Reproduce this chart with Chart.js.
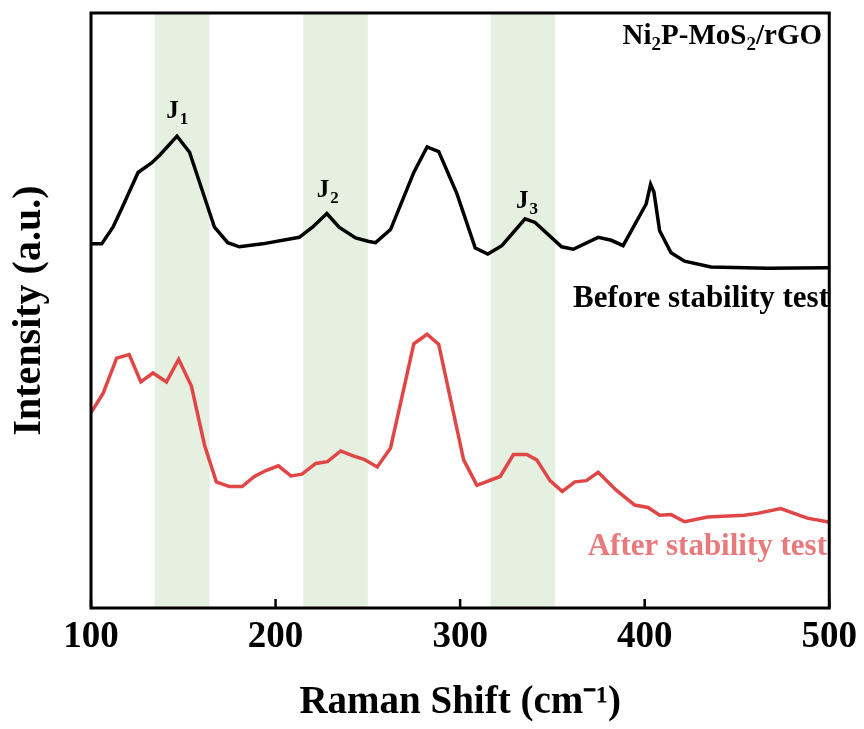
<!DOCTYPE html>
<html>
<head>
<meta charset="utf-8">
<script src="https://cdn.jsdelivr.net/npm/chart.js@4"></script>
<style>
html,body{margin:0;padding:0;background:#fff;}
#wrap{width:864px;height:729px;position:relative;}
</style>
</head>
<body>
<div id="wrap"><canvas id="c" width="864" height="729"></canvas></div>
<script>
// Raman shift (cm-1) and intensity (a.u., offset stacked)
const beforeX = [100,105.8,111.9,116.6,125.5,132.8,137.2,146.6,153.4,166.9,174.1,180.4,193.0,212.8,220.0,227.8,234.4,243.4,250.6,254.2,262.3,274.9,282.1,288.4,298.3,308.2,315.0,322.6,335.2,340.6,355.0,361.3,374.8,381.9,388.3,400.8,403.2,405.0,408.1,414.3,421.6,435.9,466.5,498.9,500];
const beforeY = [61.2,61.2,64.0,67.1,73.2,74.8,76.1,79.3,76.6,64.0,61.4,60.7,61.2,62.3,64.0,66.3,64.0,62.2,61.6,61.4,63.6,73.2,77.5,76.7,69.6,60.5,59.5,60.9,65.4,64.8,60.7,60.3,62.3,61.8,60.9,67.9,71.2,69.9,63.4,59.7,58.3,57.3,57.1,57.2,57.2];
const afterX = [100,106.6,113.9,120.7,127.0,133.6,140.9,147.5,154.4,161.5,167.9,175.0,181.9,188.5,194.8,201.5,208.3,214.3,221.8,228.1,235.3,241.6,247.9,255.1,262.3,274.9,282.1,288.4,301.9,309.1,321.7,328.9,336.1,341.5,348.7,355.3,362.2,368.4,374.8,384.6,394.6,401.8,408.1,414.3,421.6,434.1,453.9,461.1,473.7,488.1,498.9,500];
const afterY = [32.8,36.1,42.0,42.6,38.0,39.5,38.0,41.8,37.3,27.4,21.2,20.4,20.4,22.1,23.1,23.9,22.2,22.5,24.3,24.6,26.4,25.6,25.0,23.7,26.9,44.4,46.0,44.3,24.9,20.6,22.1,25.8,25.8,24.9,21.4,19.6,21.2,21.4,22.8,19.8,17.3,16.9,15.6,15.7,14.5,15.3,15.6,15.9,16.7,15.1,14.5,14.4];
const bands = [[134.5,164.2],[215,250],[316.5,351.5]];
const xTicks = [100,200,300,400,500];
const peakLabels = [["J","1",146.5,82.3],["J","2",228,69],["J","3",336,67.2]];
const seriesNames = ["Before stability test","After stability test"];
const sampleName = ["Ni","2","P-MoS","2","/rGO"];

const FONT = "'Liberation Serif','Times New Roman',serif";
const RED = "#e04646";
const RED_TXT = "#e87a7c";

function pts(xs, ys){ return xs.map((x,i)=>({x:x,y:ys[i]})); }

const deco = {
  id:'deco',
  beforeDatasetsDraw(chart){
    const {ctx, chartArea:a, scales:{x}} = chart;
    ctx.save();
    ctx.fillStyle = 'rgb(229,240,225)';
    bands.forEach(b=>{
      const x0 = x.getPixelForValue(b[0]), x1 = x.getPixelForValue(b[1]);
      ctx.fillRect(x0, a.top, x1-x0, a.bottom-a.top);
    });
    ctx.restore();
  },
  afterDatasetsDraw(chart){
    const {ctx, chartArea:a, scales:{x,y}} = chart;
    ctx.save();
    // frame
    ctx.strokeStyle = '#000';
    ctx.lineWidth = 3;
    ctx.strokeRect(a.left, a.top, a.right-a.left, a.bottom-a.top);
    // inward ticks
    ctx.lineWidth = 2.5;
    xTicks.forEach(t=>{
      const px = x.getPixelForValue(t);
      ctx.beginPath(); ctx.moveTo(px, a.bottom); ctx.lineTo(px, a.bottom-9); ctx.stroke();
    });
    // peak labels
    ctx.fillStyle = '#000';
    ctx.textBaseline = 'alphabetic';
    peakLabels.forEach(p=>{
      const px = x.getPixelForValue(p[2]), py = y.getPixelForValue(p[3]);
      ctx.font = "bold 25px " + FONT;
      const w1 = ctx.measureText(p[0]).width;
      ctx.font = "bold 17px " + FONT;
      const w2 = ctx.measureText(p[1]).width;
      const sx = px - (w1+w2)/2;
      ctx.font = "bold 25px " + FONT;
      ctx.textAlign = 'left';
      ctx.fillText(p[0], sx, py);
      ctx.font = "bold 17px " + FONT;
      ctx.fillText(p[1], sx + w1 + 1, py + 6);
    });
    // sample name (right aligned)
    const parts = sampleName;
    const sizes = parts.map((s,i)=> i%2===1 ? 19 : 29);
    let widths = parts.map((s,i)=>{ ctx.font = "bold "+sizes[i]+"px "+FONT; return ctx.measureText(s).width; });
    let total = widths.reduce((s,v)=>s+v,0);
    let cx = 822 - total;
    parts.forEach((s,i)=>{
      ctx.font = "bold "+sizes[i]+"px "+FONT;
      ctx.fillText(s, cx, i%2===1 ? 50 : 44);
      cx += widths[i];
    });
    // series labels
    ctx.textAlign = 'right';
    ctx.font = "bold 31px " + FONT;
    ctx.fillStyle = '#000';
    ctx.fillText(seriesNames[0], 829, 307);
    ctx.fillStyle = RED_TXT;
    ctx.fillText(seriesNames[1], 827, 555);
    ctx.restore();
  }
};

new Chart(document.getElementById('c'), {
  type:'line',
  data:{datasets:[
    {label:seriesNames[0], data:pts(beforeX,beforeY), borderColor:'#000', borderWidth:3.5, pointRadius:0, tension:0, fill:false},
    {label:seriesNames[1], data:pts(afterX,afterY), borderColor:RED, borderWidth:3.5, pointRadius:0, tension:0, fill:false}
  ]},
  options:{
    responsive:false, animation:false, devicePixelRatio:1,
    layout:{padding:{top:13,right:32,left:0,bottom:0}},
    plugins:{legend:{display:false}, tooltip:{enabled:false}},
    scales:{
      x:{type:'linear', min:100, max:500,
        afterBuildTicks(s){ s.ticks = xTicks.map(v=>({value:v})); },
        afterFit(s){ s.height = 729-608; },
        grid:{display:false, drawTicks:false},
        border:{display:false},
        ticks:{color:'#000', padding:7, maxRotation:0, font:{family:FONT, size:37, weight:'bold'}},
        title:{display:true, text:'Raman Shift (cm\u207B\u00B9)', color:'#000', padding:{top:0,bottom:3}, font:{family:FONT, size:39, weight:'bold'}}
      },
      y:{type:'linear', min:0, max:100,
        afterFit(s){ s.width = 91; },
        grid:{display:false, drawTicks:false},
        border:{display:false},
        ticks:{display:false},
        title:{display:true, text:'Intensity (a.u.)', color:'#000', padding:{top:6,bottom:0}, font:{family:FONT, size:40, weight:'bold'}}
      }
    }
  },
  plugins:[deco]
});
</script>
</body>
</html>
